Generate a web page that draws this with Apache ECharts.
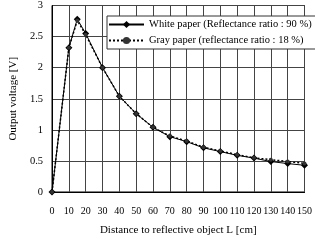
<!DOCTYPE html>
<html><head><meta charset="utf-8">
<script src="https://cdn.jsdelivr.net/npm/echarts@6/dist/echarts.min.js"></script>
<style>html,body{margin:0;padding:0;background:#fff}#c{width:315px;height:241px}</style>
</head><body><div id="c"></div>
<script>
const distances = [0,10,15,20,30,40,50,60,70,80,90,100,110,120,130,140,150];
const whitePaper = [0,2.32,2.78,2.55,2.0,1.54,1.26,1.04,0.89,0.81,0.71,0.65,0.59,0.545,0.49,0.457,0.43];
const grayPaper  = [0,2.32,2.76,2.53,2.0,1.54,1.26,1.04,0.9,0.82,0.72,0.66,0.6,0.55,0.52,0.49,0.46];
const seriesNames = ['White paper (Reflectance ratio : 90 %)','Gray paper (reflectance ratio : 18 %)'];
const xName = 'Distance to reflective object L [cm]';
const yName = 'Output voltage [V]';
const font = '"Liberation Serif", "Times New Roman", serif';
const chart = echarts.init(document.getElementById('c'), null, {renderer:'canvas'});
const pair = (ys) => distances.map((x,i)=>[x,ys[i]]);
chart.setOption({
  animation:false,
  textStyle:{fontFamily:font,color:'#000'},
  grid:{left:35,right:3,top:5,bottom:43,show:true,borderColor:'#000',borderWidth:1},
  legend:{
    left:107,top:16,orient:'vertical',
    backgroundColor:'#fff',borderColor:'#333',borderWidth:1,borderRadius:0,
    padding:[3,4,3,1],itemGap:5,itemWidth:35,itemHeight:9,
    textStyle:{fontFamily:font,fontSize:10.5,color:'#000'},
    data:seriesNames
  },
  xAxis:{
    type:'value',min:0,max:150,interval:10,
    name:xName,nameLocation:'middle',nameGap:33,
    nameTextStyle:{fontFamily:font,fontSize:11,color:'#000'},
    axisLine:{show:true,lineStyle:{color:'#000'}},
    axisTick:{show:false},
    axisLabel:{fontFamily:font,fontSize:10,color:'#000',margin:14,hideOverlap:false},
    splitLine:{show:true,lineStyle:{color:'#444',width:1}}
  },
  yAxis:{
    type:'value',min:0,max:3,interval:0.5,
    name:yName,nameLocation:'middle',nameGap:28,
    nameTextStyle:{fontFamily:font,fontSize:11,color:'#000'},
    axisLine:{show:true,lineStyle:{color:'#000'}},
    axisTick:{show:false},
    axisLabel:{fontFamily:font,fontSize:10.5,color:'#000',margin:9},
    splitLine:{show:true,lineStyle:{color:'#444',width:1}}
  },
  series:[
    {name:seriesNames[0],type:'line',data:pair(whitePaper),
     symbol:'diamond',symbolSize:7,showSymbol:true,
     lineStyle:{color:'#000',width:1},itemStyle:{color:'#000'}},
    {name:seriesNames[1],type:'line',data:pair(grayPaper),
     symbol:'circle',symbolSize:4,showSymbol:true,
     lineStyle:{color:'#000',width:1.5,type:[2,2]},itemStyle:{color:'#333'}}
  ]
});
</script></body></html>
